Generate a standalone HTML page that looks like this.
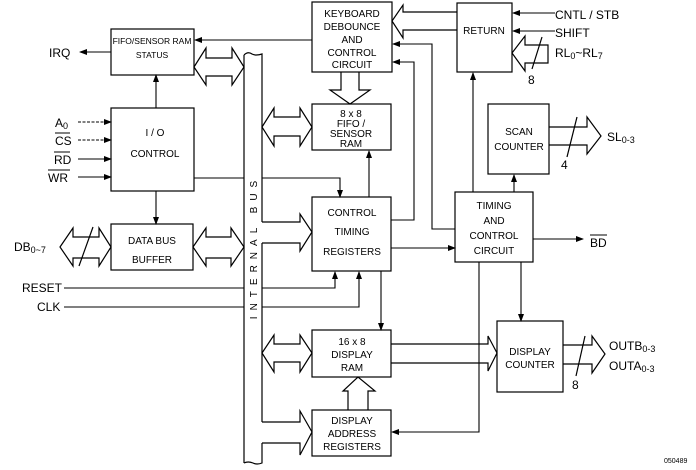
<!DOCTYPE html>
<html><head><meta charset="utf-8"><style>
html,body{margin:0;padding:0;background:#fff}
svg{display:block}
text{font-family:"Liberation Sans",sans-serif;fill:#000}
.b{font-size:10px;text-anchor:middle}
.l{font-size:12px}
</style></head><body>
<svg width="696" height="470" viewBox="0 0 696 470" xmlns="http://www.w3.org/2000/svg">
<defs>
<marker id="a" markerWidth="8" markerHeight="6" refX="7" refY="3" orient="auto" markerUnits="userSpaceOnUse">
<path d="M0,0 L8,3 L0,6 z" fill="#000"/></marker>
</defs>
<g fill="none" stroke="#000" stroke-width="1.2">
<rect x="111" y="29" width="83" height="46"/>
<rect x="111" y="108" width="83" height="83"/>
<rect x="111" y="224" width="82" height="46"/>
<rect x="312" y="2" width="80" height="70"/>
<rect x="457" y="3" width="55" height="69"/>
<rect x="312" y="104" width="79" height="46"/>
<rect x="312" y="197" width="79" height="74"/>
<rect x="455" y="192" width="78" height="70"/>
<rect x="488" y="104" width="61" height="70"/>
<rect x="312" y="330" width="79" height="47"/>
<rect x="312" y="410" width="79" height="46"/>
<rect x="497" y="321" width="66" height="71"/>
<path d="M244,55 L244,463"/>
<path d="M244,55 q4,-4 8,-1 q4,2 10,0 L262,222 M262,243 L262,422 M262,443 L262,463 q-5,2 -9,0 q-5,-2 -9,0"/>
<path d="M262,222 L300,222 L300,214 L312,232 L300,251 L300,243 L262,243"/>
<path d="M262,422 L300,422 L300,411 L312,432 L300,455 L300,443 L262,443"/>
<path d="M194,67 L206,48 L206,58 L232,58 L232,48 L244,67 L232,85 L232,76 L206,76 L206,85 Z"/>
<path d="M262,127 L274,108 L274,117 L300,117 L300,108 L312,127 L300,146 L300,136 L274,136 L274,146 Z"/>
<path d="M193,247 L206,228 L206,237 L231,237 L231,228 L244,247 L231,266 L231,258 L206,258 L206,266 Z"/>
<path d="M60,247 L73,228 L73,237 L99,237 L99,228 L111,247 L99,266 L99,258 L73,258 L73,266 Z"/>
<path d="M79,266 L93,227"/>
<path d="M262,353 L274,335 L274,344 L300,344 L300,335 L312,353 L300,372 L300,362 L274,362 L274,372 Z"/>
<path d="M341,72 L341,90 L330,90 L350,104 L370,90 L359,90 L359,72"/>
<path d="M457,12 L403,12 L403,5 L392,21 L403,38 L403,30 L457,30"/>
<path d="M548,45 L525,45 L525,36 L512,53 L525,71 L525,63 L548,63 Z"/>
<path d="M542,37 L532,69"/>
<path d="M549,127 L587,127 L587,117 L601,136 L587,154 L587,145 L549,145"/>
<path d="M577,117 L567,157"/>
<path d="M391,344 L488,344 L488,336 L497,353 L488,371 L488,363 L391,363"/>
<path d="M563,345 L592,345 L592,336 L605,354 L592,373 L592,364 L563,364"/>
<path d="M585,336 L576,376"/>
<path d="M348,410 L348,391 L343,391 L358,377 L375,391 L368,391 L368,410"/>
</g>
<g fill="none" stroke="#000" stroke-width="1.1">
<path d="M111,52 L80,52" marker-end="url(#a)"/>
<path d="M156,108 L156,75" marker-end="url(#a)"/>
<path d="M156,191 L156,224" marker-end="url(#a)"/>
<path d="M78,122 L111,122" marker-end="url(#a)" stroke-dasharray="3,1.5"/>
<path d="M78,140 L111,140" marker-end="url(#a)" stroke-dasharray="3,1.5"/>
<path d="M78,159 L111,159" marker-end="url(#a)"/>
<path d="M78,177 L111,177" marker-end="url(#a)"/>
<path d="M194,178 L244,178 M262,178 L340,178 L340,197" marker-end="url(#a)"/>
<path d="M312,40 L195,40" marker-end="url(#a)"/>
<path d="M555,13 L513,13" marker-end="url(#a)"/>
<path d="M555,31 L513,31" marker-end="url(#a)"/>
<path d="M391,220 L414,220 L414,62 L393,62" marker-end="url(#a)"/>
<path d="M455,229 L432,229 L432,44 L393,44" marker-end="url(#a)"/>
<path d="M391,248 L455,248" marker-end="url(#a)"/>
<path d="M369,197 L369,151" marker-end="url(#a)"/>
<path d="M473,192 L473,73" marker-end="url(#a)"/>
<path d="M514,192 L514,175" marker-end="url(#a)"/>
<path d="M533,239 L583,239" marker-end="url(#a)"/>
<path d="M521,262 L521,321" marker-end="url(#a)"/>
<path d="M479,262 L479,432 L392,432" marker-end="url(#a)"/>
<path d="M381,271 L381,330" marker-end="url(#a)"/>
<path d="M64,288 L244,288 M262,288 L335,288 L335,272" marker-end="url(#a)"/>
<path d="M64,307 L244,307 M262,307 L359,307 L359,272" marker-end="url(#a)"/>
</g>
<text class="b" x="152" y="44" style="font-size:8.5px">FIFO/SENSOR RAM</text>
<text class="b" x="152" y="58" style="font-size:8.5px">STATUS</text>
<text class="b" x="155" y="136">I / O</text>
<text class="b" x="155" y="157">CONTROL</text>
<text class="b" x="152" y="244">DATA BUS</text>
<text class="b" x="152" y="263">BUFFER</text>
<text class="b" x="352" y="17">KEYBOARD</text>
<text class="b" x="352" y="30">DEBOUNCE</text>
<text class="b" x="352" y="43">AND</text>
<text class="b" x="352" y="56">CONTROL</text>
<text class="b" x="352" y="68">CIRCUIT</text>
<text class="b" x="484" y="34">RETURN</text>
<text class="b" x="351" y="117">8 x 8</text>
<text class="b" x="351" y="127">FIFO /</text>
<text class="b" x="351" y="137">SENSOR</text>
<text class="b" x="351" y="147">RAM</text>
<text class="b" x="352" y="216">CONTROL</text>
<text class="b" x="352" y="235">TIMING</text>
<text class="b" x="352" y="255">REGISTERS</text>
<text class="b" x="494" y="209">TIMING</text>
<text class="b" x="494" y="224">AND</text>
<text class="b" x="494" y="239">CONTROL</text>
<text class="b" x="494" y="254">CIRCUIT</text>
<text class="b" x="519" y="135">SCAN</text>
<text class="b" x="519" y="150">COUNTER</text>
<text class="b" x="352" y="345">16 x 8</text>
<text class="b" x="352" y="358">DISPLAY</text>
<text class="b" x="352" y="371">RAM</text>
<text class="b" x="352" y="424">DISPLAY</text>
<text class="b" x="352" y="437">ADDRESS</text>
<text class="b" x="352" y="450">REGISTERS</text>
<text class="b" x="530" y="355">DISPLAY</text>
<text class="b" x="530" y="368">COUNTER</text>
<text class="b" x="0" y="0" transform="translate(257,247) rotate(-90)" style="letter-spacing:6px;font-size:10px">INTERNAL BUS</text>
<text class="l" x="49" y="57">IRQ</text>
<text class="l" x="55" y="127">A<tspan font-size="9" dy="2">0</tspan></text>
<text class="l" x="55" y="145">CS</text><path d="M55,133 L70,133" stroke="#000"/>
<text class="l" x="54" y="164">RD</text><path d="M54,152 L70,152" stroke="#000"/>
<text class="l" x="48" y="182">WR</text><path d="M48,170 L70,170" stroke="#000"/>
<text class="l" x="14" y="251">DB<tspan font-size="9" dy="2">0~7</tspan></text>
<text class="l" x="22" y="292">RESET</text>
<text class="l" x="37" y="311">CLK</text>
<text class="l" x="555" y="19">CNTL / STB</text>
<text class="l" x="555" y="37">SHIFT</text>
<text class="l" x="555" y="57">RL<tspan font-size="9" dy="2">0</tspan><tspan dy="-2">~RL</tspan><tspan font-size="9" dy="2">7</tspan></text>
<text class="l" x="528" y="84">8</text>
<text class="l" x="607" y="141">SL<tspan font-size="9" dy="2">0-3</tspan></text>
<text class="l" x="561" y="169">4</text>
<text class="l" x="590" y="247">BD</text><path d="M590,235 L607,235" stroke="#000"/>
<text class="l" x="609" y="350">OUTB<tspan font-size="9" dy="2">0-3</tspan></text>
<text class="l" x="609" y="370">OUTA<tspan font-size="9" dy="2">0-3</tspan></text>
<text class="l" x="572" y="389">8</text>
<text x="664" y="463" style="font-size:7px">050489</text>
</svg>
</body></html>
